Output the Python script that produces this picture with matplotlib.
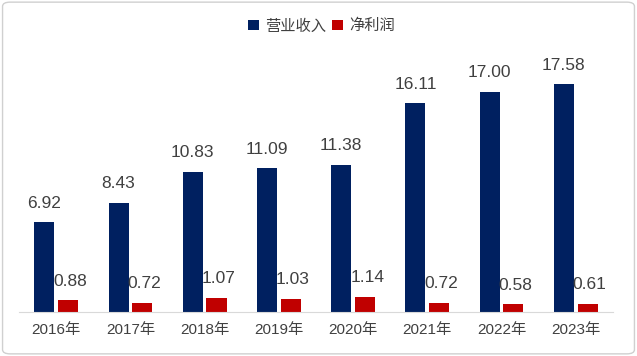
import matplotlib.pyplot as plt
import numpy as np
from matplotlib.patches import FancyBboxPatch

plt.rcParams["font.family"] = ["Liberation Sans", "Noto Sans CJK SC", "DejaVu Sans"]

years = ["2016年", "2017年", "2018年", "2019年", "2020年", "2021年", "2022年", "2023年"]
revenue = [6.92, 8.43, 10.83, 11.09, 11.38, 16.11, 17.00, 17.58]
profit = [0.88, 0.72, 1.07, 1.03, 1.14, 0.72, 0.58, 0.61]

navy = "#002060"
red = "#c00000"
text_c = "#404040"

fig = plt.figure(figsize=(6.37, 3.56), dpi=100)
ax = fig.add_axes([0.03, 0.124, 0.932, 0.727])

x = np.arange(len(years))
w = 0.27
b1 = ax.bar(x - 0.16, revenue, w, color=navy, label="营业收入")
b2 = ax.bar(x + 0.16, profit, w, color=red, label="净利润")

for rect, v in zip(b1, revenue):
    ax.text(rect.get_x() + rect.get_width() / 2, v + 0.9, f"{v:.2f}",
            ha="center", va="bottom", fontsize=12.5, color=text_c)
for rect, v in zip(b2, profit):
    ax.text(rect.get_x() + rect.get_width() / 2 + 0.03, v + 0.9, f"{v:.2f}",
            ha="center", va="bottom", fontsize=12.5, color=text_c)

ax.set_xlim(-0.5, len(years) - 0.5)
ax.set_ylim(0, 20)
ax.set_xticks(x)
ax.set_xticklabels(years, fontsize=11, color=text_c)
ax.tick_params(axis="x", length=0, pad=8)
ax.set_yticks([])
for s in ["left", "right", "top"]:
    ax.spines[s].set_visible(False)
ax.spines["bottom"].set_color("#d9d9d9")

fig.legend(loc="upper center", bbox_to_anchor=(0.505, 0.985), ncol=2, frameon=False,
           fontsize=11, handlelength=0.7, handleheight=0.7, handletextpad=0.4,
           columnspacing=0.4, labelcolor=text_c)

border = FancyBboxPatch((0.004, 0.006), 0.992, 0.988, boxstyle="round,pad=0,rounding_size=0.012",
                        transform=fig.transFigure, fill=False, edgecolor="#d0d0d0", linewidth=1)
fig.patches.append(border)

fig.savefig("out.png", dpi=100)
